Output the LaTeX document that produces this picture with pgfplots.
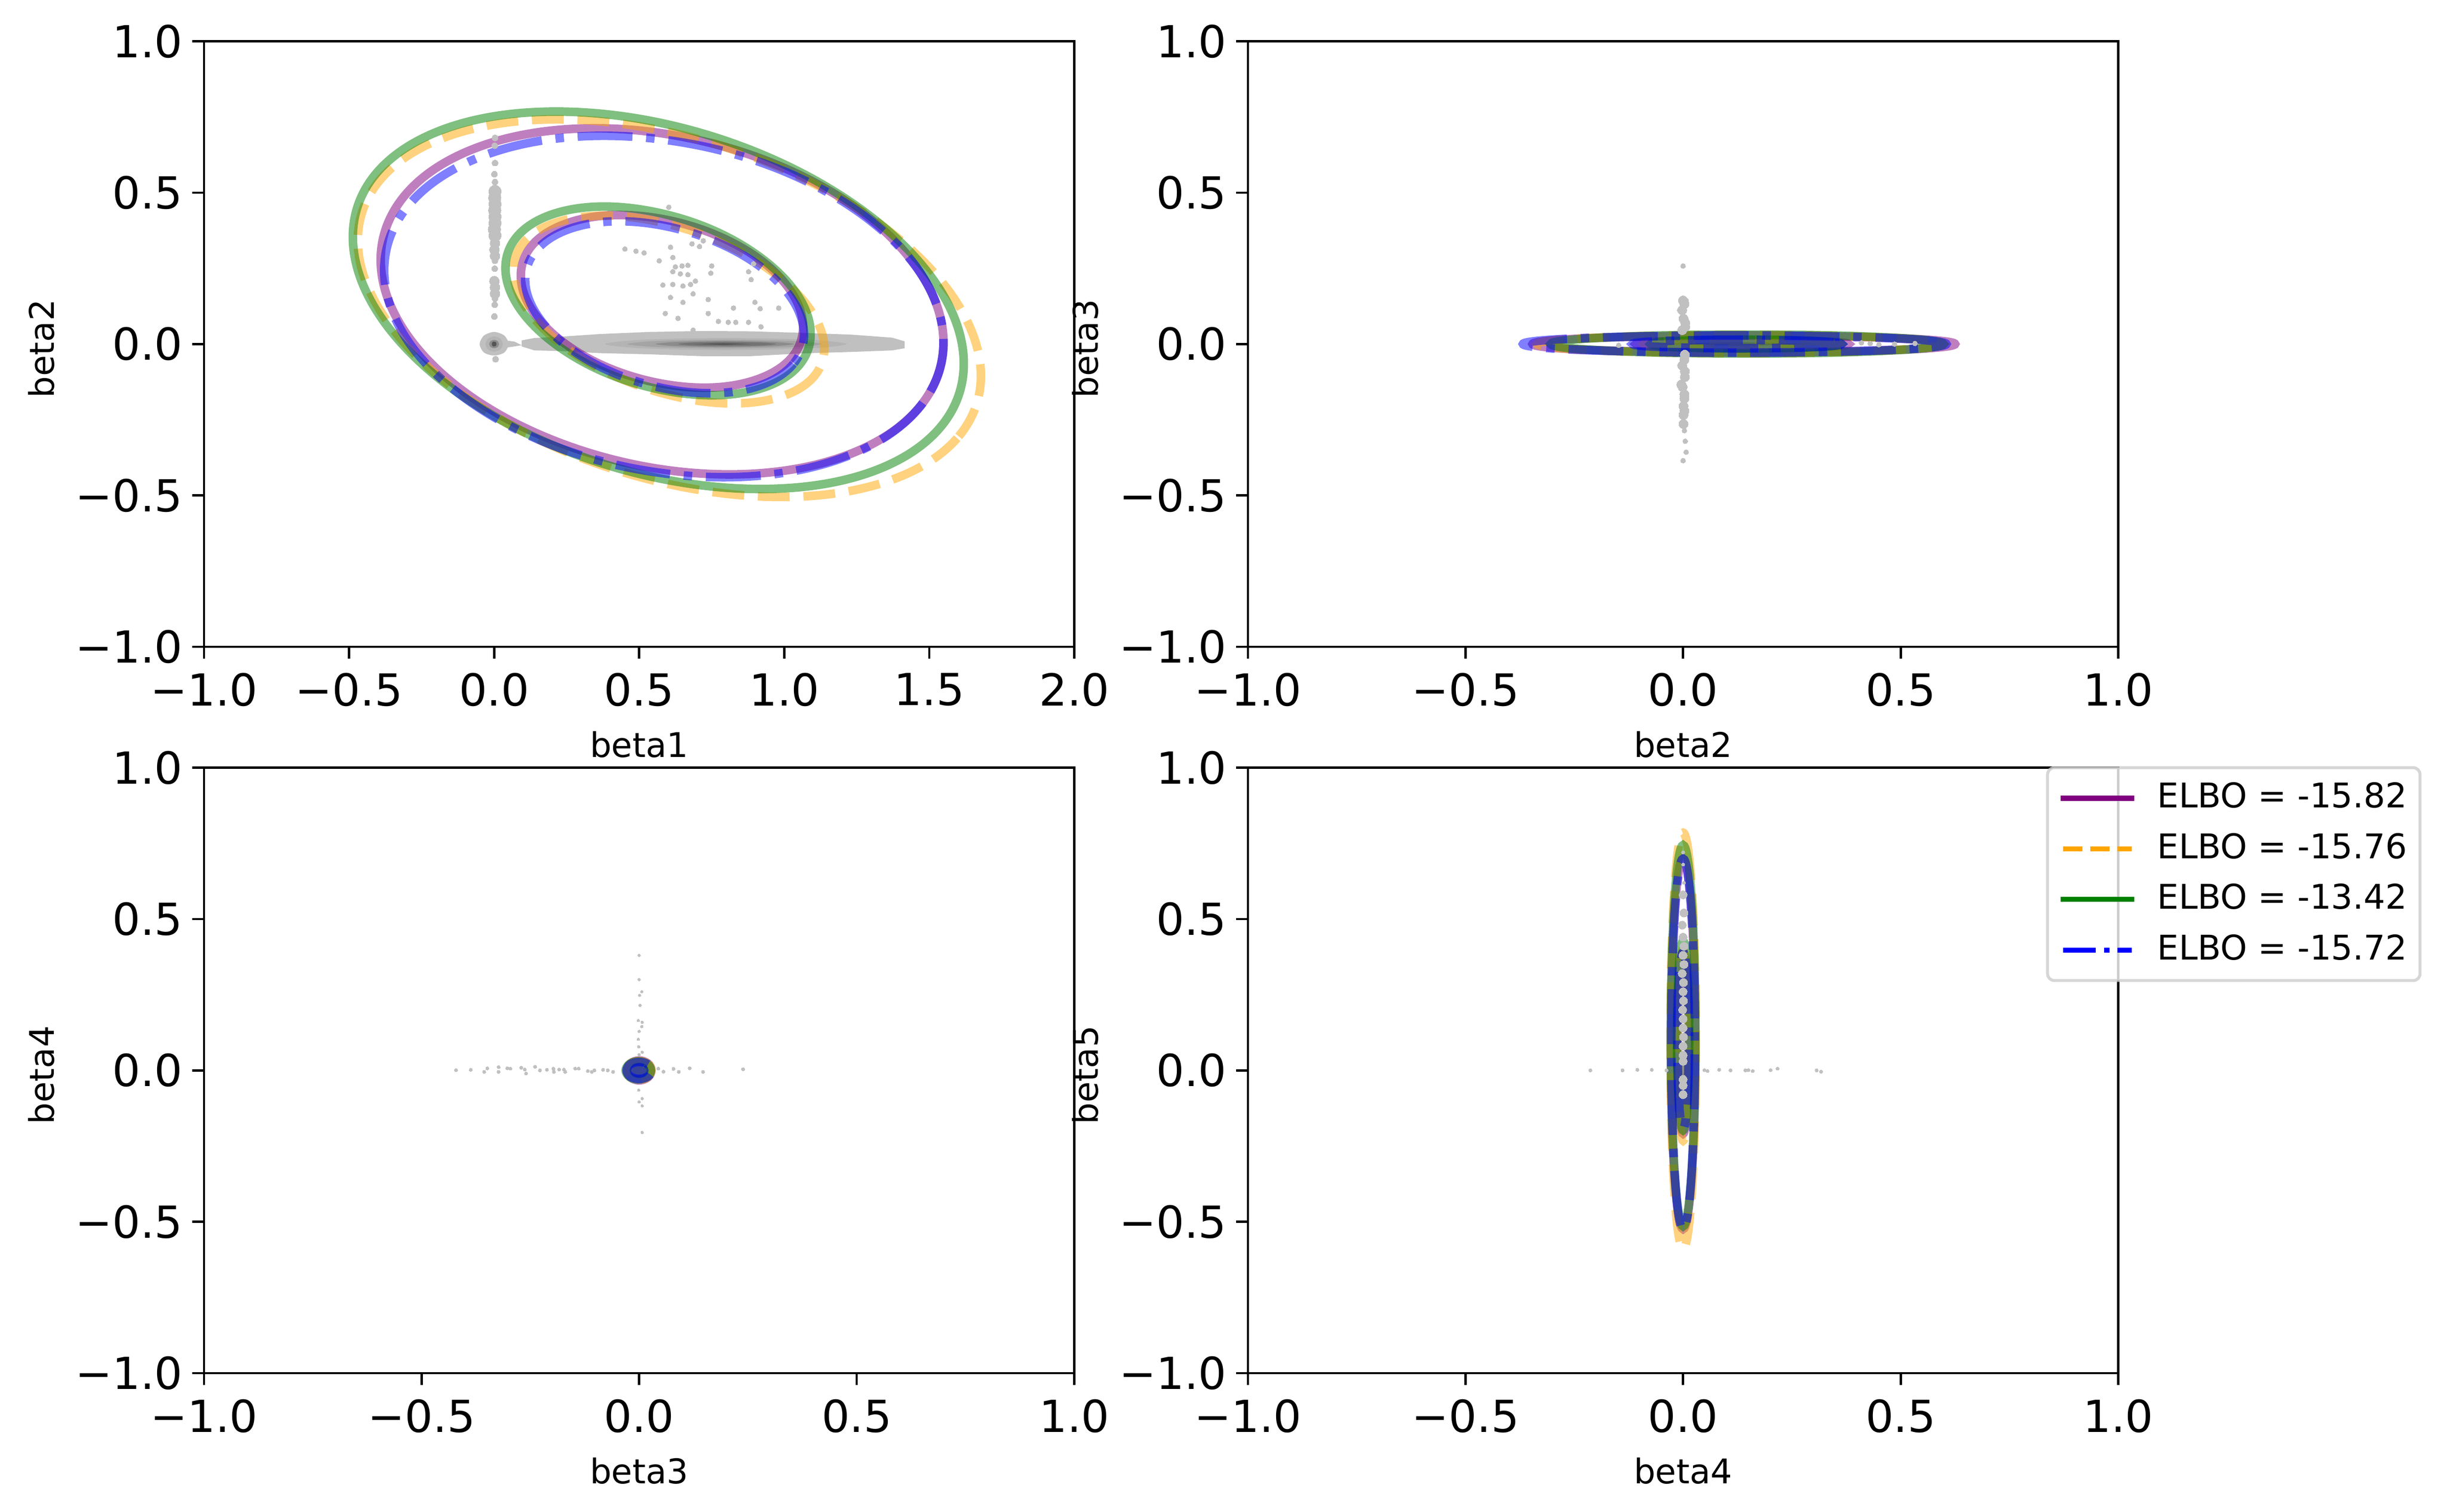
\documentclass[border=0pt]{standalone}
\usepackage{fontspec}
\setmainfont{DejaVu Sans}
\usepackage{pgfplots}
\pgfplotsset{compat=1.18}

\definecolor{ppl}{HTML}{800080}
\definecolor{org}{HTML}{FFA500}
\definecolor{grn}{HTML}{008000}
\definecolor{blu}{HTML}{0000FF}
\definecolor{kde}{HTML}{C0C0C0}
\definecolor{kdeb}{HTML}{B4B4B4}
\definecolor{kdec}{HTML}{A4A4A4}
\definecolor{kded}{HTML}{8C8C8C}
\definecolor{kdee}{HTML}{747474}
\definecolor{kdef}{HTML}{555555}
\definecolor{legedge}{HTML}{CCCCCC}

\pgfplotsset{
  panel/.style={
    scale only axis, width=317.07pt, height=220.57pt,
    anchor=south west,
    axis line style={line width=0.85pt},
    tick align=outside, tick pos=left,
    major tick length=4.3pt,
    every tick/.style={black, line width=0.85pt},
    tick label style={font=\fontsize{16.1}{16.1}\selectfont},
    x tick label style={yshift=-1.7pt},
    ymin=-1, ymax=1,
    ytick={-1,-0.5,0,0.5,1},
    yticklabels={−1.0,−0.5,0.0,0.5,1.0},
    every axis x label/.style={at={(axis description cs:0.5,0)},anchor=base,yshift=-40.3pt,font=\fontsize{12.4}{12.4}\selectfont},
    every axis y label/.style={at={(axis description cs:0,0.5)},rotate=90,anchor=base,yshift=54.7pt,xshift=-1.7pt,font=\fontsize{12.4}{12.4}\selectfont},
  },
  symx/.style={xmin=-1, xmax=1, xtick={-1,-0.5,0,0.5,1}, xticklabels={−1.0,−0.5,0.0,0.5,1.0}},
  lp/.style={ppl, line width=3.13pt, opacity=0.5, smooth cycle, tension=0.62, forget plot},
  lo/.style={org, line width=3.13pt, opacity=0.5, smooth cycle, tension=0.62, forget plot, dash pattern=on 11.6pt off 5pt},
  lg/.style={grn, line width=3.13pt, opacity=0.5, smooth cycle, tension=0.62, forget plot},
  lb/.style={blu, line width=3.13pt, opacity=0.5, smooth cycle, tension=0.62, forget plot, dash pattern=on 20pt off 5pt on 3.1pt off 5pt},
  speck/.style={only marks, color=kde, mark=*, mark size=#1, line width=0pt, forget plot},
  blob/.style={draw=none, fill=#1, smooth cycle, forget plot},
}

\begin{document}
\begin{tikzpicture}
\path[use as bounding box] (0,0) rectangle (891.54pt,550.8pt);

% beta1 / beta2
\begin{axis}[panel, at={(74.34pt,315.18pt)},
  xmin=-1, xmax=2, xtick={-1,-0.5,0,0.5,1,1.5,2}, xticklabels={−1.0,−0.5,0.0,0.5,1.0,1.5,2.0},
  xlabel={beta1}, ylabel={beta2}]
% density
\addplot[draw=none, fill=kde, forget plot] coordinates {(.095,.012)(.139,.020)(.225,.024)(.364,.033)(.538,.040)(.712,.043)(.886,.042)(1.059,.037)(1.233,.031)(1.372,.021)(1.415,.009)(1.415,-.014)(1.372,-.021)(1.233,-.026)(1.059,-.031)(.886,-.040)(.712,-.040)(.538,-.034)(.364,-.030)(.225,-.023)(.139,-.021)(.095,-.008)};
\addplot[blob=kdeb] coordinates {(1.216,0)(1.091,.014)(.799,.020)(.507,.014)(.382,0)(.507,-.014)(.799,-.020)(1.091,-.014)};
\addplot[blob=kdec] coordinates {(1.130,0)(1.030,.010)(.795,.014)(.560,.010)(.460,0)(.560,-.010)(.795,-.014)(1.030,-.010)};
\addplot[blob=kded] coordinates {(1.034,0)(.962,.007)(.795,.010)(.628,.007)(.556,0)(.628,-.007)(.795,-.010)(.962,-.007)};
\addplot[blob=kdee] coordinates {(.972,0)(.921,.005)(.803,.007)(.685,.005)(.634,0)(.685,-.005)(.803,-.007)(.921,-.005)};
\addplot[draw=none, fill=kdef, forget plot] coordinates {(.886,0)(.79,.003)(.694,0)(.79,-.003)};
\addplot[blob=kde] coordinates {(.05,0)(.035,.028)(0,.04)(-.035,.028)(-.05,0)(-.035,-.028)(0,-.038)(.035,-.028)};
\addplot[draw=none, fill=kde, forget plot] coordinates {(.04,.012)(.07,.008)(.095,-.004)(.07,-.008)(.04,-.012)};
\addplot[blob=kdeb] coordinates {(.03,0)(.021,.018)(0,.025)(-.021,.018)(-.03,0)(-.021,-.018)(0,-.025)(.021,-.018)};
\addplot[blob=kded] coordinates {(.017,0)(.012,.010)(0,.014)(-.012,.010)(-.017,0)(-.012,-.010)(0,-.014)(.012,-.010)};
\addplot[blob=kdef] coordinates {(.008,0)(.006,.006)(0,.008)(-.006,.006)(-.008,0)(-.006,-.006)(0,-.008)(.006,-.006)};
\addplot[speck=2.3pt] coordinates {(.003,.504)(.002,.483)(.003,.463)(.002,.442)(.003,.421)(.003,.400)(.001,.379)(.003,.359)};
\addplot[speck=1.8pt] coordinates {(.003,.333)(.001,.312)(.003,.291)(.001,.208)(.003,.187)(.003,.166)};
\addplot[speck=1.1pt] coordinates {(.003,.681)(.002,.655)(.003,.598)(.001,.561)(.003,.535)(.003,.275)(.002,.249)(.003,.150)(.002,.130)(.001,.091)(.005,-.050)};
\addplot[speck=.9pt] coordinates {(.602,.452)(.451,.314)(.489,.307)(.517,.301)(.569,.275)(.608,.320)(.708,.322)(.721,.341)(.682,.331)(.616,.286)(.750,.258)(.625,.255)(.648,.258)(.668,.260)(.616,.239)(.642,.232)(.668,.229)(.694,.208)(.677,.197)(.651,.192)(.616,.197)(.582,.195)(.747,.234)(.886,.213)(.877,.239)(.894,.265)(.686,.166)(.738,.147)(.651,.138)(.608,.154)(.825,.119)(.899,.138)(.917,.117)(.981,.119)(.590,.101)(.634,.085)(.738,.101)(.773,.075)(.807,.072)(.833,.072)(.877,.072)(.920,.057)(.686,.046)};
% contours
\addplot[lp] coordinates {(1.549,.005)(1.475,-.198)(1.265,-.348)(.951,-.424)(.579,-.414)(.207,-.319)(-.107,-.155)(-.317,.055)(-.391,.278)(-.317,.480)(-.107,.630)(.207,.706)(.579,.696)(.951,.601)(1.265,.437)(1.475,.227)};
\addplot[lp] coordinates {(1.065,.056)(1.028,-.042)(.923,-.111)(.765,-.143)(.579,-.131)(.392,-.078)(.235,.008)(.129,.115)(.092,.226)(.129,.324)(.235,.393)(.392,.425)(.579,.413)(.765,.360)(.923,.274)(1.028,.167)};
\addplot[lo] coordinates {(1.678,-.105)(1.596,-.311)(1.363,-.451)(1.015,-.505)(.604,-.463)(.193,-.333)(-.155,-.135)(-.388,.103)(-.470,.342)(-.388,.548)(-.155,.688)(.193,.742)(.604,.700)(1.015,.570)(1.363,.372)(1.596,.135)};
\addplot[lo] coordinates {(1.138,-.015)(1.097,-.113)(.981,-.176)(.807,-.196)(.602,-.168)(.397,-.097)(.223,.006)(.107,.125)(.066,.243)(.107,.341)(.223,.404)(.397,.424)(.602,.396)(.807,.325)(.981,.222)(1.097,.103)};
\addplot[lg] coordinates {(1.619,-.065)(1.539,-.274)(1.310,-.419)(.969,-.478)(.566,-.443)(.163,-.318)(-.178,-.123)(-.407,.113)(-.487,.354)(-.407,.563)(-.178,.708)(.163,.767)(.566,.732)(.969,.607)(1.310,.412)(1.539,.176)};
\addplot[lg] coordinates {(1.091,.034)(1.051,-.070)(.937,-.141)(.766,-.169)(.565,-.149)(.364,-.086)(.193,.013)(.079,.131)(.039,.251)(.079,.355)(.193,.426)(.364,.454)(.565,.434)(.766,.371)(.937,.272)(1.051,.154)};
\addplot[lb] coordinates {(1.549,.005)(1.476,-.197)(1.267,-.350)(.954,-.431)(.585,-.427)(.216,-.340)(-.097,-.181)(-.306,.023)(-.379,.243)(-.306,.445)(-.097,.598)(.216,.679)(.585,.675)(.954,.588)(1.267,.429)(1.476,.225)};
\addplot[lb] coordinates {(1.068,.031)(1.032,-.065)(.928,-.133)(.772,-.162)(.588,-.147)(.404,-.092)(.248,-.005)(.144,.102)(.107,.212)(.144,.308)(.248,.376)(.404,.405)(.588,.390)(.772,.335)(.928,.248)(1.032,.141)};
\end{axis}

% beta2 / beta3
\begin{axis}[panel, symx, at={(454.68pt,315.18pt)}, xlabel={beta2}, ylabel={beta3}]
\addplot[speck=1.7pt] coordinates {(0,.144)(.003,.132)(-.002,.112)(.001,.084)(.005,.070)(.005,.057)(-.002,.046)(.004,-.035)(.003,-.052)(-.002,-.071)(.004,-.090)(.004,-.109)(-.004,-.134)(-.001,-.142)(.003,-.166)(.003,-.180)(.001,-.205)(.003,-.221)(.001,-.234)(.001,-.264)};
\addplot[speck=.9pt] coordinates {(.0,.258)(.007,.144)(.0,.132)(-.008,.112)(.003,-.286)(.005,-.321)(.007,-.357)(0,-.385)(.41,.004)(.43,.002)(.45,-.002)(.486,0)(.533,.002)(-.148,-.004)};
\addplot[draw=none, fill=kde, forget plot] coordinates {(-.08,0)(.12,.006)(.32,0)(.12,-.006)};
\addplot[lp] coordinates {(.625,0)(.588,.011)(.483,.020)(.325,.026)(.140,.0285)(-.046,.026)(-.204,.020)(-.309,.011)(-.346,0)(-.309,-.011)(-.204,-.020)(-.046,-.026)(.140,-.0285)(.325,-.026)(.483,-.020)(.588,-.011)};
\addplot[lp] coordinates {(.380,0)(.3615,.0052)(.3085,.0096)(.2295,.0126)(.136,.0136)(.0425,.0126)(-.0365,.0096)(-.0895,.0052)(-.108,0)(-.0895,-.0052)(-.0365,-.0096)(.0425,-.0126)(.136,-.0136)(.2295,-.0126)(.3085,-.0096)(.3615,-.0052)};
\addplot[lo] coordinates {(.598,0)(.563,.0115)(.461,.021)(.310,.028)(.132,.030)(-.047,.028)(-.198,.021)(-.300,.0115)(-.335,0)(-.300,-.0115)(-.198,-.021)(-.047,-.028)(.132,-.030)(.310,-.028)(.461,-.021)(.563,-.0115)};
\addplot[lo] coordinates {(.360,0)(.343,.0056)(.294,.0103)(.221,.0134)(.135,.0145)(.049,.0134)(-.024,.0103)(-.073,.0056)(-.090,0)(-.073,-.0056)(-.024,-.0103)(.049,-.0134)(.135,-.0145)(.221,-.0134)(.294,-.0103)(.343,-.0056)};
\addplot[lg] coordinates {(.598,0)(.564,.012)(.466,.022)(.320,.029)(.147,.031)(-.026,.029)(-.172,.022)(-.270,.012)(-.304,0)(-.270,-.012)(-.172,-.022)(-.026,-.029)(.147,-.031)(.320,-.029)(.466,-.022)(.564,-.012)};
\addplot[lg] coordinates {(.364,0)(.347,.0056)(.300,.0103)(.229,.0134)(.145,.0145)(.061,.0134)(-.010,.0103)(-.057,.0056)(-.074,0)(-.057,-.0056)(-.010,-.0103)(.061,-.0134)(.145,-.0145)(.229,-.0134)(.300,-.0103)(.347,-.0056)};
\addplot[lb] coordinates {(.605,0)(.568,.011)(.4625,.020)(.3045,.026)(.1185,.0285)(-.0675,.026)(-.2255,.020)(-.331,.011)(-.368,0)(-.331,-.011)(-.2255,-.020)(-.0675,-.026)(.1185,-.0285)(.3045,-.026)(.4625,-.020)(.568,-.011)};
\addplot[lb] coordinates {(.364,0)(.346,.0054)(.294,.0099)(.216,.0129)(.124,.014)(.032,.0129)(-.046,.0099)(-.098,.0054)(-.116,0)(-.098,-.0054)(-.046,-.0099)(.032,-.0129)(.124,-.014)(.216,-.0129)(.294,-.0099)(.346,-.0054)};
\end{axis}

% beta3 / beta4
\begin{axis}[panel, symx, at={(74.34pt,50.58pt)}, xlabel={beta3}, ylabel={beta4}]
\addplot[speck=.6pt] coordinates {(-.421,.001)(-.387,.002)(-.349,.007)(-.356,-.005)(-.323,.011)(-.323,-.005)(-.303,.007)(-.296,.006)(-.271,.009)(-.263,.003)(-.260,-.010)(-.239,.012)(-.228,0)(-.212,.002)(-.197,.006)(-.196,-.005)(-.184,.003)(-.173,.003)(-.170,-.005)(-.147,.006)(-.139,.006)(-.118,-.002)(-.103,0)(-.109,-.005)(-.083,.002)(-.072,0)(-.060,-.005)(.044,.006)(.056,-.004)(.079,.005)(.091,-.005)(.116,.007)(.147,-.005)(.239,.004)};
\addplot[speck=.5pt] coordinates {(.006,.260)(.001,.248)(.002,.215)(-.002,.165)(.007,.159)(.006,.145)(0,.129)(-.002,.103)(-.001,.078)(.007,.060)(0,.052)(-.001,-.065)(.007,-.093)(0,-.104)(.007,-.117)(.007,-.205)(0,.38)(0,.30)};
\addplot[lp] coordinates {(.028,0)(.020,.023)(0,.033)(-.020,.023)(-.028,0)(-.020,-.023)(0,-.033)(.020,-.023)};
\addplot[lp] coordinates {(.011,0)(.008,.008)(0,.011)(-.008,.008)(-.011,0)(-.008,-.008)(0,-.011)(.008,-.008)};
\addplot[lo] coordinates {(.028,0)(.020,.022)(0,.031)(-.020,.022)(-.028,0)(-.020,-.022)(0,-.031)(.020,-.022)};
\addplot[lo] coordinates {(.011,0)(.008,.0085)(0,.012)(-.008,.0085)(-.011,0)(-.008,-.0085)(0,-.012)(.008,-.0085)};
\addplot[lg] coordinates {(.027,0)(.0185,.021)(-.002,.030)(-.0225,.021)(-.031,0)(-.0225,-.021)(-.002,-.030)(.0185,-.021)};
\addplot[lg] coordinates {(.012,0)(.0085,.008)(0,.011)(-.0085,.008)(-.012,0)(-.0085,-.008)(0,-.011)(.0085,-.008)};
\addplot[lb] coordinates {(.029,0)(.0205,.020)(0,.028)(-.0205,.020)(-.029,0)(-.0205,-.020)(0,-.028)(.0205,-.020)};
\addplot[lb] coordinates {(.011,0)(.008,.007)(0,.010)(-.008,.007)(-.011,0)(-.008,-.007)(0,-.010)(.008,-.007)};
\end{axis}

% beta4 / beta5
\begin{axis}[panel, symx, at={(454.68pt,50.58pt)}, xlabel={beta4}, ylabel={beta5},
  legend image code/.code={\draw[#1, draw opacity=1, fill opacity=1] (0pt,0pt) -- (25pt,0pt);},
  legend cell align=left,
  legend style={at={(axis description cs:0.9188,1.0)}, anchor=north west,
    draw=legedge, line width=1.08pt, rounded corners=2.5pt,
    fill=white, fill opacity=0.8, draw opacity=0.8, text opacity=1,
    inner xsep=4.7pt, inner ysep=5.6pt, outer sep=0pt,
    font=\fontsize{12.4}{12.4}\selectfont,
    nodes={inner sep=0pt, text height=9.04pt, text depth=2pt},
    row sep=7.4pt,
    /tikz/every odd column/.append style={column sep=8.4pt}}]
\addplot[speck=1.5pt] coordinates {(0,.58)(.002,.52)(-.002,.48)(0,.44)(.002,.41)(0,.38)(.002,.35)(-.002,.32)(.001,.29)(0,.26)(.001,.23)(-.001,.20)(0,.17)(0,.14)(.001,.11)(0,.08)(0,.05)(0,.03)(0,-.03)(0,-.05)(0,-.08)};
\addplot[speck=.6pt] coordinates {(0,.72)(0,.68)(.002,.62)(-.213,0)(-.139,0)(-.105,.002)(-.072,.002)(-.038,0)(.049,.001)(.056,-.002)(.083,.002)(.109,0)(.143,0)(.150,.001)(.160,-.002)(.201,.001)(.217,.006)(.307,0)(.317,-.004)};
\addplot[blob=kded] coordinates {(.004,0)(.003,.025)(0,.035)(-.003,.025)(-.004,0)(-.003,-.025)(0,-.035)(.003,-.025)};
\addplot[lp] coordinates {(0,.699)(.0107,.6525)(.0198,.5195)(.0259,.3215)(.028,.0875)(.0259,-.1465)(.0198,-.3445)(.0107,-.4775)(0,-.524)(-.0107,-.4775)(-.0198,-.3445)(-.0259,-.1465)(-.028,.0875)(-.0259,.3215)(-.0198,.5195)(-.0107,.6525)};
\addplot[lp] coordinates {(0,.390)(.005,.3675)(.0092,.3025)(.012,.2055)(.013,.0905)(.012,-.0245)(.0092,-.1215)(.005,-.1865)(0,-.209)(-.005,-.1865)(-.0092,-.1215)(-.012,-.0245)(-.013,.0905)(-.012,.2055)(-.0092,.3025)(-.005,.3675)};
\addplot[lo] coordinates {(0,.785)(.0111,.733)(.0205,.584)(.0268,.361)(.029,.098)(.0268,-.165)(.0205,-.388)(.0111,-.537)(0,-.589)(-.0111,-.537)(-.0205,-.388)(-.0268,-.165)(-.029,.098)(-.0268,.361)(-.0205,.584)(-.0111,.733)};
\addplot[lo] coordinates {(0,.399)(.005,.375)(.0092,.3065)(.012,.2045)(.013,.0835)(.012,-.0375)(.0092,-.1395)(.005,-.208)(0,-.232)(-.005,-.208)(-.0092,-.1395)(-.012,-.0375)(-.013,.0835)(-.012,.2045)(-.0092,.3065)(-.005,.375)};
\addplot[lg] coordinates {(0,.744)(.0107,.6965)(.0198,.5595)(.0259,.3555)(.028,.1145)(.0259,-.1265)(.0198,-.3305)(.0107,-.4675)(0,-.515)(-.0107,-.4675)(-.0198,-.3305)(-.0259,-.1265)(-.028,.1145)(-.0259,.3555)(-.0198,.5595)(-.0107,.6965)};
\addplot[lg] coordinates {(0,.427)(.0054,.4035)(.0099,.3355)(.0129,.2345)(.014,.1145)(.0129,-.0055)(.0099,-.1065)(.0054,-.1745)(0,-.198)(-.0054,-.1745)(-.0099,-.1065)(-.0129,-.0055)(-.014,.1145)(-.0129,.2345)(-.0099,.3355)(-.0054,.4035)};
\addplot[lb] coordinates {(0,.699)(.0103,.6525)(.0191,.5195)(.0249,.3215)(.027,.0865)(.0249,-.1485)(.0191,-.3465)(.0103,-.4795)(0,-.526)(-.0103,-.4795)(-.0191,-.3465)(-.0249,-.1485)(-.027,.0865)(-.0249,.3215)(-.0191,.5195)(-.0103,.6525)};
\addplot[lb] coordinates {(0,.390)(.005,.368)(.0092,.305)(.012,.210)(.013,.099)(.012,-.012)(.0092,-.107)(.005,-.170)(0,-.192)(-.005,-.170)(-.0092,-.107)(-.012,-.012)(-.013,.099)(-.012,.210)(-.0092,.305)(-.005,.368)};
\addlegendimage{ppl, line width=1.87pt, line cap=rect}
\addlegendentry{ELBO = -15.82}
\addlegendimage{org, line width=1.87pt, dash pattern=on 7pt off 2.9pt}
\addlegendentry{ELBO = -15.76}
\addlegendimage{grn, line width=1.87pt, line cap=rect}
\addlegendentry{ELBO = -13.42}
\addlegendimage{blu, line width=1.87pt, dash pattern=on 12pt off 3pt on 1.87pt off 3pt}
\addlegendentry{ELBO = -15.72}
\end{axis}
\end{tikzpicture}
\end{document}
